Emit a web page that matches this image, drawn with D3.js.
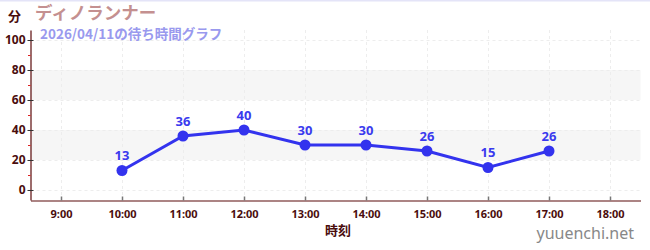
<!DOCTYPE html>
<html>
<head>
<meta charset="utf-8">
<script src="https://cdn.jsdelivr.net/npm/d3@7"></script>
<style>
  body { margin: 0; background: #fff; }
  svg { display: block; font-family: "Noto Sans CJK JP", "Noto Sans", sans-serif; }
</style>
</head>
<body>
<div id="chart"></div>
<script>
const hours = [10, 11, 12, 13, 14, 15, 16, 17]
const waits = [13, 36, 40, 30, 30, 26, 15, 26]
const xTicks = [9, 10, 11, 12, 13, 14, 15, 16, 17, 18]
const yTicks = [0, 20, 40, 60, 80, 100]
const yMinor = [10, 30, 50, 70, 90]
const bands = [[20, 40], [60, 80]]

const width = 650
const height = 250

const svg = d3.select("#chart")
  .append("svg")
  .attr("width", width)
  .attr("height", height)

const x = d3.scaleLinear().domain([8.5, 18.5]).range([30.5, 640.5])
const y = d3.scaleLinear().domain([-6.67, 106.67]).range([200, 30])

// top border
svg.append("rect").attr("x", 0).attr("y", 0).attr("width", width).attr("height", 1.5)
  .attr("fill", "#e4e4f8")

// shaded bands
svg.append("g").selectAll("rect")
  .data(bands)
  .enter().append("rect")
  .attr("x", x(8.5))
  .attr("width", x(18.5) - x(8.5))
  .attr("y", d => y(d[1]))
  .attr("height", d => y(d[0]) - y(d[1]))
  .attr("fill", "#f6f6f6")

// grid
const grid = svg.append("g").attr("stroke", "#ededed").attr("stroke-dasharray", "3,3")
grid.selectAll("line.h")
  .data(yTicks)
  .enter().append("line")
  .attr("x1", x(8.5)).attr("x2", x(18.5))
  .attr("y1", d => Math.round(y(d)) + 0.5).attr("y2", d => Math.round(y(d)) + 0.5)
grid.selectAll("line.v")
  .data(xTicks)
  .enter().append("line")
  .attr("x1", d => Math.round(x(d)) + 0.5).attr("x2", d => Math.round(x(d)) + 0.5)
  .attr("y1", y(106.67)).attr("y2", y(-6.67))

// y axis
const yAxis = svg.append("g")
  .attr("transform", "translate(30.5,0)")
  .call(d3.axisLeft(y).tickValues(yTicks).tickSize(3).tickSizeOuter(0))
yAxis.select(".domain").attr("stroke", "#5a0a0a").attr("stroke-width", 1.2)
yAxis.selectAll(".tick line").attr("stroke", "#333").attr("x2", 3).attr("x1", -3)
yAxis.selectAll(".tick text")
  .attr("x", -5)
  .attr("fill", "#4a0d0d")
  .attr("font-size", "12px")
  .attr("font-weight", "bold")
  .style("font-family", "'Noto Sans', sans-serif")

svg.append("g").selectAll("line")
  .data(yMinor)
  .enter().append("line")
  .attr("x1", 28).attr("x2", 30.5)
  .attr("y1", d => Math.round(y(d)) + 0.5).attr("y2", d => Math.round(y(d)) + 0.5)
  .attr("stroke", "#d22")

// x axis
const xAxis = svg.append("g")
  .attr("transform", "translate(0,200.5)")
  .call(d3.axisBottom(x).tickValues(xTicks).tickSize(0).tickSizeOuter(0).tickPadding(10)
    .tickFormat(d => d + ":00"))
xAxis.select(".domain").attr("stroke", "#5a0a0a").attr("stroke-width", 1.2)
xAxis.selectAll(".tick line").attr("y1", -4).attr("y2", 0).attr("stroke", "#777").attr("stroke-width", 1.5)
xAxis.selectAll(".tick text")
  .attr("fill", "#4a0d0d")
  .attr("font-size", "11px")
  .attr("font-weight", "bold")
  .style("font-family", "'Noto Sans', sans-serif")

// line
svg.append("path")
  .datum(hours.map((h, i) => [h, waits[i]]))
  .attr("fill", "none")
  .attr("stroke", "#3333ee")
  .attr("stroke-width", 3)
  .attr("d", d3.line().x(d => x(d[0])).y(d => y(d[1])))

svg.append("g").selectAll("circle")
  .data(hours)
  .enter().append("circle")
  .attr("cx", d => x(d))
  .attr("cy", (d, i) => y(waits[i]))
  .attr("r", 5.5)
  .attr("fill", "#3333ee")

svg.append("g").selectAll("text")
  .data(hours)
  .enter().append("text")
  .attr("x", d => x(d))
  .attr("y", (d, i) => y(waits[i]) - 10)
  .attr("text-anchor", "middle")
  .attr("fill", "#3a3aee")
  .attr("font-size", "13px")
  .attr("font-weight", "bold")
  .style("font-family", "'Noto Sans', sans-serif")
  .text((d, i) => waits[i])

// titles
svg.append("text").attr("x", 8).attr("y", 21)
  .attr("font-size", "13px").attr("font-weight", "bold").attr("fill", "#4a0d0d")
  .text("分")
svg.append("text").attr("x", 35).attr("y", 19)
  .attr("font-size", "17.5px").attr("font-weight", "bold").attr("fill", "#c49090")
  .text("ディノランナー")
svg.append("text").attr("x", 40).attr("y", 38.5)
  .attr("font-size", "13.5px").attr("font-weight", "bold").attr("fill", "#9999ee")
  .text("2026/04/11の待ち時間グラフ")

svg.append("text").attr("x", 338).attr("y", 235).attr("text-anchor", "middle")
  .attr("font-size", "13px").attr("font-weight", "bold").attr("fill", "#4a0d0d")
  .text("時刻")
svg.append("text").attr("x", 634).attr("y", 239).attr("text-anchor", "end")
  .attr("font-size", "16px").attr("fill", "#888")
  .style("font-family", "'Noto Sans', sans-serif")
  .text("yuuenchi.net")
</script>
</body>
</html>
